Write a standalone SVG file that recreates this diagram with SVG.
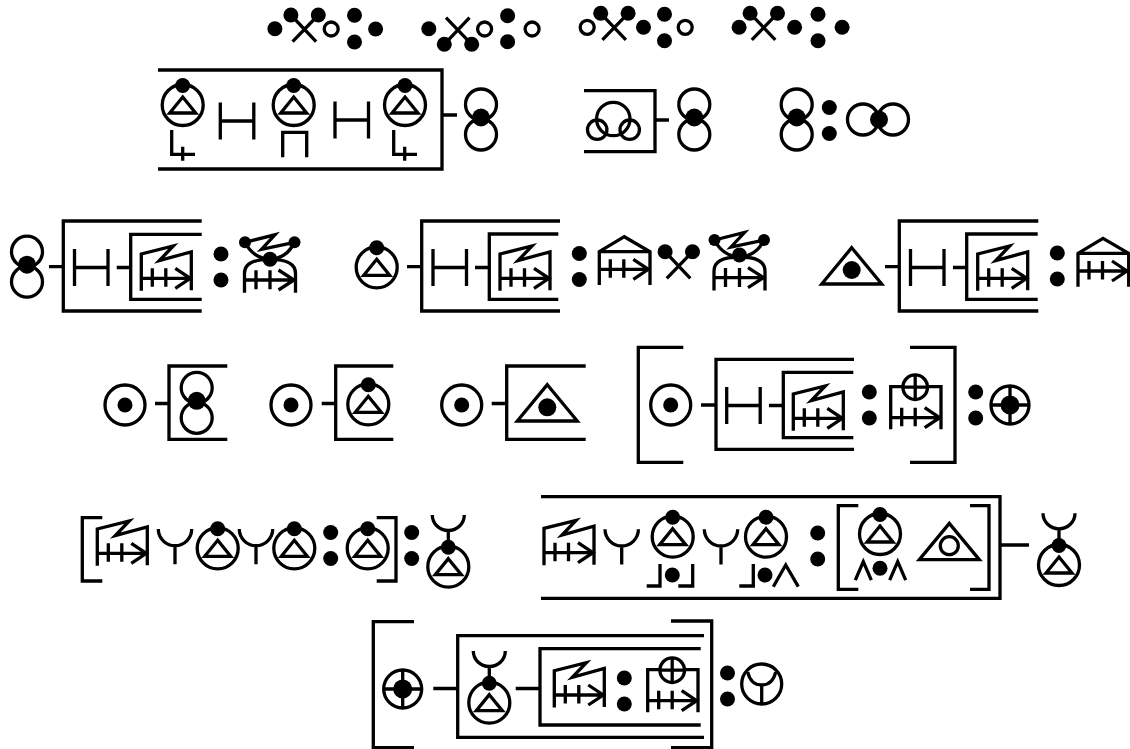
<svg xmlns="http://www.w3.org/2000/svg" width="1130" height="749" viewBox="0 0 1130 749">
<style>
.l{fill:none;stroke:#000;stroke-width:3.3}
.d{fill:#000;stroke:none}
</style>
<defs>
<circle id="dot" class="d" r="7.5"/>
<circle id="open" class="l" r="7"/>
<g id="colon"><circle class="d" cy="0" r="7.5"/><circle class="d" cy="26" r="7.5"/></g>
<g id="A"><circle class="l" r="20.5"/><path class="l" d="M0-8 13 8H-13Z"/><circle class="d" cy="-19.5" r="7.5"/></g>
<g id="H"><path class="l" d="M0-18.5V18.5M33.5-18.5V18.5M0 0H33.5"/></g>
<g id="eight"><circle class="l" cy="-15" r="15.5"/><circle class="l" cy="15" r="15.5"/><circle class="d" cy="-2" r="9"/></g>
<g id="arrow"><path class="l" d="M0 0H49M34-10 49 0 34 10M11-10V8.5M24.5-10V8.5"/></g>
<g id="F"><path class="l" d="M0 12.5V-24.3L32-32.3 18-17.7 50-26.5V12"/><use href="#arrow"/></g>
<g id="G"><circle class="d" cx="-25" cy="-17" r="6"/><circle class="d" cx="24.5" cy="-17" r="6"/><path class="l" d="M-25-17 5-24.5-8.5-10 24.5-17M-25-17Q-17-1 0 0Q17-1 24.5-17M0 0Q-25.5 0-25.5 14V33.5M0 0Q25.5 0 25.5 14V33.5"/><path class="l" d="M-25.5 20.7H24M8.5 10.7 24 20.7 8.5 30.7M-14 11V30M0 11V30"/></g>
<g id="house"><path class="l" d="M0 15.7V-17.6L25-32.6 50.7-17.6V15.7M0-17.6H50.7"/><use href="#arrow"/></g>
<g id="X"><circle class="d" cx="-13.7" r="7.5"/><circle class="d" cx="13.7" r="7.5"/><path class="l" d="M-13.7 0 11.5 26.6M13.7 0-12 26.6"/></g>
<g id="T"><path class="l" d="M0-22.3 30 14H-30Z"/></g>
<g id="bull"><circle class="l" r="20"/><circle class="d" r="7.5"/></g>
<g id="C"><path class="l" d="M0 11.6V-31H50.3V11.6"/><circle class="l" cx="24.5" cy="-30.5" r="12.3" style="fill:#fff"/><path class="l" d="M24.5-42.8V-18.2M12.2-30.5H36.8"/><use href="#arrow"/></g>
<g id="D"><circle class="l" r="19"/><path class="l" d="M0-19V19M-19 0H19"/><circle class="d" r="9.5"/></g>
<g id="Y"><path class="l" d="M-16.7 0A16.7 16.7 0 0 0 16.7 0M0 16.7V35.3"/></g>
<g id="YA"><use href="#A"/><path class="l" d="M-16 -51.7A16 15.5 0 0 0 16-51.7M0-36V-20"/></g>
<g id="lambda"><path class="l" d="M-8 18.5 0 0 8 18.5"/></g>
</defs>

<g id="row-1">
<g id="group-1"><use href="#dot" x="274.9" y="28.7"/><use href="#X" x="304.6" y="15"/><use href="#open" x="331.2" y="29"/><use href="#dot" x="354.5" y="15.3"/><use href="#dot" x="354.5" y="42"/><use href="#dot" x="375.6" y="29"/></g>
<g id="group-2"><use href="#dot" x="428.8" y="28.7"/><g transform="translate(458 44.3) scale(1 -1)"><use href="#X"/></g><use href="#open" x="484.6" y="29"/><use href="#dot" x="507.6" y="15.7"/><use href="#dot" x="507.6" y="41.7"/><use href="#open" x="532.1" y="29"/></g>
<g id="group-3"><use href="#open" x="587.2" y="27.3"/><use href="#X" x="614.4" y="13.3"/><use href="#dot" x="643.5" y="27.3"/><use href="#dot" x="664.5" y="14.3"/><use href="#dot" x="664.5" y="40.7"/><use href="#open" x="685.2" y="27.3"/></g>
<g id="group-4"><use href="#dot" x="739.1" y="27.3"/><use href="#X" x="763.8" y="13.3"/><use href="#dot" x="794.6" y="27.3"/><use href="#dot" x="818" y="14.3"/><use href="#dot" x="818" y="40.7"/><use href="#dot" x="842.1" y="27.3"/></g>
</g>

<g id="connectors">
<path class="l" d="M442 115H457M655 120H669"/>
<path class="l" d="M49 266.7H63M116.7 267.5H131M407 266.7H422M475 267.5H489M885 266.7H899M953 267.5H967"/>
<path class="l" d="M155 403.5H170M321.7 403.5H336M491.7 403.5H507M701 405H716M769 405.5H783"/>
<path class="l" d="M1001 545H1029M433.3 688.5H458M515.7 688.5H540"/>
</g>

<g id="row-2">
<path id="box-2a" class="l" d="M158 70H442V169H158"/>
<use id="a1" href="#A" x="182.7" y="105"/><use id="a2" href="#A" x="293.7" y="105"/><use id="a3" href="#A" x="405" y="105"/>
<use id="h1" href="#H" x="220.3" y="121"/><use id="h2" href="#H" x="335" y="120"/>
<path id="l1" class="l" d="M171.7 130V154.3H195M182.7 146.7V160.7"/>
<path id="pi" class="l" d="M282.7 157.3V132.3H306.7V157.3"/>
<path id="l2" class="l" d="M393.7 130V154.3H417M404.7 146.7V160.7"/>
<use id="e1" href="#eight" x="481" y="119.5"/>
<path id="box-2b" class="l" d="M584 90.7H655V151.7H584"/>
<g id="rings"><circle class="l" cx="613.3" cy="119" r="16.7"/><circle class="l" cx="597.2" cy="129.7" r="9.7"/><circle class="l" cx="629.7" cy="129.7" r="9.7"/></g>
<use id="e2" href="#eight" x="694.3" y="119.5"/>
<use id="e3" href="#eight" x="796.7" y="119.5"/>
<use id="c1" href="#colon" x="829.3" y="107.5"/>
<g id="e4" transform="translate(878 119.5)"><circle class="l" cx="-15" r="15.5"/><circle class="l" cx="15" r="15.5"/><circle class="d" cx="1" r="9"/></g>
</g>

<g id="row-3">
<use id="e5" href="#eight" x="27" y="266.7"/>
<path class="l" d="M201.7 221H63.3V311H201.7M201.7 234.3H130.7V299.3H201.7"/>
<use href="#H" x="74.5" y="267.5"/>
<use href="#F" x="141.3" y="278.3"/>
<use href="#colon" x="221" y="254"/>
<use href="#G" x="270" y="259.3"/><use href="#dot" x="270" y="259.3"/>
<use id="a4" href="#A" x="376.7" y="267.3"/>
<path class="l" d="M560 221H421.7V311H560M558.3 234H489.3V299.3H558.3"/>
<use href="#H" x="433" y="267.5"/>
<use href="#F" x="500" y="278.3"/>
<use href="#colon" x="579.3" y="253.5"/>
<use href="#house" x="599.3" y="269.3"/>
<use href="#X" x="678.8" y="251.7"/>
<use href="#G" x="739.5" y="257"/><use href="#dot" x="739.5" y="255"/>
<g id="t1"><use href="#T" x="851.7" y="270"/><circle class="d" cx="851.7" cy="270" r="9"/></g>
<path class="l" d="M1038.3 221H899.3V311H1038.3M1037.7 234H966.7V299.3H1037.7"/>
<use href="#H" x="910.5" y="267.5"/>
<use href="#F" x="977.7" y="278.3"/>
<use href="#colon" x="1057.3" y="253"/>
<use href="#house" x="1078" y="271"/>
</g>

<g id="row-4">
<use href="#bull" x="125" y="405"/>
<path class="l" d="M227.3 366H169V439.3H227.3"/>
<use href="#eight" x="196.7" y="402.8"/>
<use href="#bull" x="291" y="405"/>
<path class="l" d="M393.3 366H335.7V439.3H393.3"/>
<use href="#A" x="368.3" y="404.3"/>
<use href="#bull" x="461.7" y="405"/>
<path class="l" d="M585.7 366H506.7V439.3H585.7"/>
<use href="#T" x="547.3" y="407"/><circle class="d" cx="547.3" cy="407.3" r="9"/>
<path class="l" d="M683.3 347.3H638.3V462.3H683.3M910 347.3H955V462.3H910"/>
<use href="#bull" x="670.7" y="405"/>
<path class="l" d="M854 359.3H716V449.3H854M853.3 372.3H783.3V437.7H853.3"/>
<use href="#H" x="726.7" y="405.5"/>
<use href="#F" x="793.3" y="418.3"/>
<use href="#colon" x="869.3" y="392"/>
<use href="#C" x="890.7" y="417.7"/>
<use href="#colon" x="975.7" y="392"/>
<use href="#D" x="1010" y="405"/>
</g>

<g id="row-5">
<path class="l" d="M102.3 517.7H82.3V581H102.3M376.7 517.7H396V581H376.7"/>
<use href="#F" x="97.3" y="553.3"/>
<use href="#Y" x="175" y="529"/>
<use href="#A" x="217.7" y="548.3"/>
<use href="#Y" x="256" y="529"/>
<use href="#A" x="294.3" y="548.3"/>
<use href="#colon" x="330.7" y="532.5"/>
<use href="#A" x="367.7" y="548.3"/>
<use href="#colon" x="411.7" y="532.5"/>
<use href="#YA" x="448.3" y="566.7"/>
<path class="l" d="M541 496.7H1000V598.3H541"/>
<use href="#F" x="544" y="552.7"/>
<use href="#Y" x="621.7" y="529.3"/>
<use href="#A" x="672.7" y="536.7"/>
<path class="l" d="M646.7 586H660V564M678.3 586H692.7V564"/>
<use href="#dot" x="672.3" y="575"/>
<use href="#Y" x="721" y="529.3"/>
<use href="#A" x="766" y="536.7"/>
<path class="l" d="M739.3 586H753.3V564"/>
<use href="#dot" x="765" y="575"/>
<path class="l" d="M773.3 586.7 785.7 565 798.3 586.7"/>
<use href="#colon" x="817.7" y="533"/>
<path class="l" d="M858.3 505.7H838.3V589.3H858.3M970 505.7H989V589.3H970"/>
<use href="#A" x="880" y="534"/>
<use href="#lambda" x="863.3" y="561.7"/>
<use href="#dot" x="880" y="568.3"/>
<use href="#lambda" x="897.7" y="561.7"/>
<use href="#T" x="949.3" y="545.7"/><circle class="l" cx="949.3" cy="545.7" r="9"/>
<use href="#YA" x="1059" y="565"/>
</g>

<g id="row-6">
<path class="l" d="M414 621.7H373.3V747.7H414M671 621H711.7V747.7H671"/>
<use href="#D" x="402.7" y="689"/>
<path class="l" d="M704 635.7H457.7V737.3H704M700.7 648.7H540V725H700.7"/>
<use href="#YA" x="489.3" y="702.7"/>
<use href="#F" x="554.3" y="695"/>
<use href="#colon" x="624.3" y="678"/>
<use href="#C" x="647.7" y="700.7"/>
<use href="#colon" x="727.5" y="673"/>
<g id="e-y" transform="translate(761.7 684)"><circle class="l" r="20"/><path class="l" d="M-14-12Q-11 1 0 1Q11 1 14-12M0 1V20"/></g>
</g>
</svg>
